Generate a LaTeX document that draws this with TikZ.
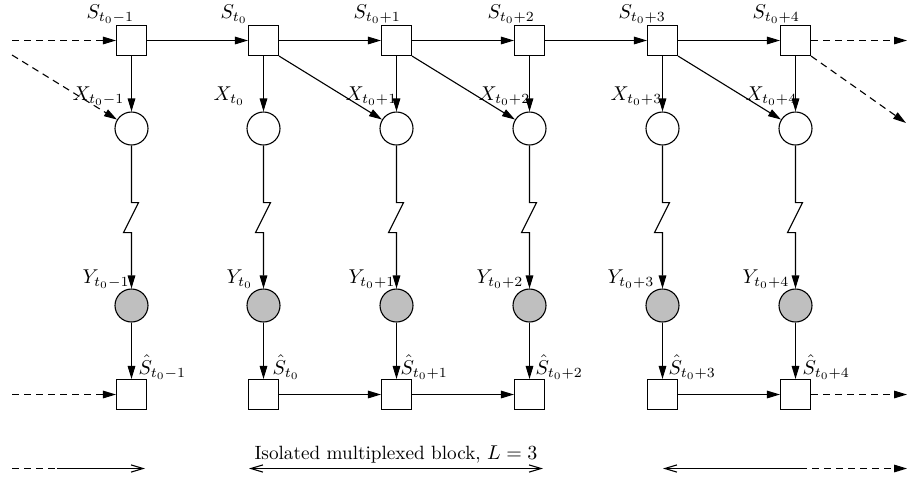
\documentclass[tikz,border=0pt]{standalone}
\usetikzlibrary{arrows.meta}
\begin{document}
\begin{tikzpicture}[x=0.5pt,y=-0.5pt, line width=0.55pt,
  every node/.style={font=\fontsize{9.6pt}{11.5pt}\selectfont},
  sq/.style={draw, minimum size=15pt, inner sep=0pt, fill=white},
  wc/.style={draw, circle, minimum size=16.5pt, inner sep=0pt},
  gc/.style={wc, fill=black!25},
  arr/.style={-{Triangle[length=6.5pt,width=3.8pt]}},
  barb/.style={-{Straight Barb[length=6pt,width=3.6pt]}},
  dsh/.style={dash pattern=on 3.5pt off 2.5pt},
  lbl/.style={anchor=base west, inner sep=0pt}]
\useasboundingbox (0,0) rectangle (909,478);
\foreach \i/\x in {0/131.5,1/263.5,2/396.5,3/529.5,4/662.5,5/795.5}{
  \node[sq] (s\i) at (\x,40.5) {};
  \node[wc] (x\i) at (\x,128.5) {};
  \node[gc] (y\i) at (\x,305.5) {};
  \node[sq] (h\i) at (\x,394.5) {};
  \draw[arr] (s\i) -- (x\i);
  \draw[arr] (x\i.south) -- ++(0,57) -- ++(7,0) -- ++(-15,30) -- ++(8,0) -- (y\i.north);
  \draw[arr] (y\i) -- (h\i);
}
% labels
\foreach \i/\x/\t in {0/86/{t_0-1},1/220/{t_0},2/353/{t_0+1},3/487/{t_0+2},4/618/{t_0+3},5/752/{t_0+4}}
  \node[lbl] (ls\i) at (\x,18) {$S_{\t}$};
\foreach \i/\x/\t in {0/72/{t_0-1},1/213/{t_0},2/345/{t_0+1},3/478/{t_0+2},4/610/{t_0+3},5/745/{t_0+4}}
  \node[lbl] (lx\i) at (\x,100) {$X_{\t}$};
\foreach \i/\x/\t in {0/82/{t_0-1},1/226/{t_0},2/348/{t_0+1},3/476/{t_0+2},4/607/{t_0+3},5/742/{t_0+4}}
  \node[lbl] (ly\i) at (\x,283) {$Y_{\t}$};
\foreach \i/\x/\t in {0/138/{t_0-1},1/272/{t_0},2/400/{t_0+1},3/535/{t_0+2},4/668/{t_0+3},5/802/{t_0+4}}
  \node[lbl] (lh\i) at (\x,374) {$\hat{S}_{\t}$};
% top chain
\draw[arr] (s0) -- (s1);
\draw[arr] (s1) -- (s2);
\draw[arr] (s2) -- (s3);
\draw[arr] (s3) -- (s4);
\draw[arr] (s4) -- (s5);
\draw[arr] (s1.south east) -- (x2);
\draw[arr] (s2.south east) -- (x3);
\draw[arr] (s4.south east) -- (x5);
% bottom chain
\draw[arr] (h1) -- (h2);
\draw[arr] (h2) -- (h3);
\draw[arr] (h4) -- (h5);
% dashed in/out
\coordinate (tl) at (12,40.5);
\coordinate (tld) at (12,55);
\coordinate (tr) at (907,40.5);
\coordinate (trd) at (906,123);
\coordinate (bl) at (12,394.5);
\coordinate (br) at (907,394.5);
\draw[arr,dsh] (tl) -- (s0.west);
\draw[arr,dsh] (tld) -- (x0);
\draw[arr,dsh] (s5.east) -- (tr);
\draw[arr,dsh] (s5.south east) -- (trd);
\draw[arr,dsh] (bl) -- (h0.west);
\draw[arr,dsh] (h5.east) -- (br);
% block arrows
\coordinate (a1) at (12,468.5);
\coordinate (a2) at (57,468.5);
\coordinate (a3) at (145,468.5);
\coordinate (b1) at (249,468.5);
\coordinate (b2) at (543,468.5);
\coordinate (c1) at (663,468.5);
\coordinate (c2) at (800,468.5);
\coordinate (c3) at (907,468.5);
\draw[dsh] (a1) -- (a2);
\draw[barb] (a2) -- (a3);
\draw[{Straight Barb[length=6pt,width=3.6pt]}-{Straight Barb[length=6pt,width=3.6pt]}] (b1) -- (b2);
\draw[barb] (c2) -- (c1);
\draw[arr,dsh] (c2) -- (c3);
\node[anchor=base, inner sep=0pt] (blk) at (396,459) {Isolated multiplexed block, $L=3$};
\end{tikzpicture}
\end{document}
